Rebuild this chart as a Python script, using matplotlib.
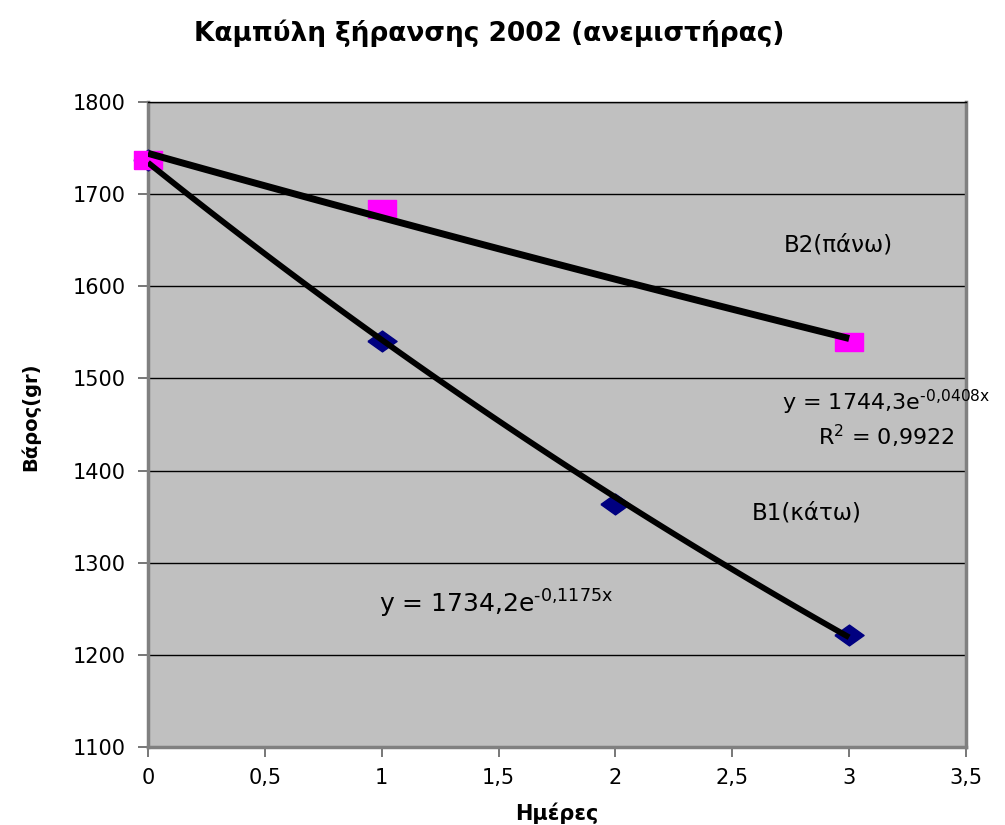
import numpy as np
import matplotlib
matplotlib.use("Agg")
import matplotlib.pyplot as plt
from matplotlib.ticker import MultipleLocator, FuncFormatter

plt.rcParams['font.family'] = ['DejaVu Sans']
plt.rcParams['mathtext.default'] = 'regular'

# Drying measurements (days vs weight in grams)
days_b2 = [0, 1, 3]
weight_b2 = [1737, 1684, 1540]
days_b1 = [0, 1, 2, 3]
weight_b1 = [1737, 1541, 1364, 1222]

# Exponential trendline coefficients: y = a * exp(b * x)
fit_b2 = (1744.3, -0.0408)
fit_b1 = (1734.2, -0.1175)
r2_b2 = 0.9922

title = "Καμπύλη ξήρανσης 2002 (ανεμιστήρας)"
xlabel = "Ημέρες"
ylabel = "Βάρος(gr)"

fig = plt.figure(figsize=(10.05, 8.25), dpi=100)
ax = fig.add_axes([148 / 1005, 1 - 747 / 825, (966 - 148) / 1005, (747 - 102) / 825])
ax.set_facecolor('#C0C0C0')

# wide rectangle / diamond marker shapes
square = [(-1.5, -1), (1.5, -1), (1.5, 1), (-1.5, 1), (-1.5, -1)]
diamond = [(-1.4, 0), (0, -1), (1.4, 0), (0, 1), (-1.4, 0)]

ax.plot(days_b1, weight_b1, linestyle='none', marker=diamond, markersize=21,
        color='#000080', zorder=3, clip_on=False)
ax.plot(days_b2, weight_b2, linestyle='none', marker=square, markersize=20,
        color='#FF00FF', zorder=3.5, clip_on=False)

xs = np.linspace(0, 3, 100)
ax.plot(xs, fit_b2[0] * np.exp(fit_b2[1] * xs), color='black', lw=5, zorder=4,
        solid_capstyle='butt')
ax.plot(xs, fit_b1[0] * np.exp(fit_b1[1] * xs), color='black', lw=4.2, zorder=4,
        solid_capstyle='butt')

ax.set_xlim(0, 3.5)
ax.set_ylim(1100, 1800)
ax.xaxis.set_major_locator(MultipleLocator(0.5))
ax.yaxis.set_major_locator(MultipleLocator(100))
comma = FuncFormatter(lambda v, p: f"{v:g}".replace('.', ','))
ax.xaxis.set_major_formatter(comma)
ax.yaxis.grid(True, color='black', lw=1)
ax.set_axisbelow(True)

for s in ['left', 'bottom', 'right']:
    ax.spines[s].set_color('#808080')
    ax.spines[s].set_linewidth(2.5)
ax.spines['top'].set_color('black')
ax.spines['top'].set_linewidth(1)

ax.tick_params(axis='both', direction='out', length=7, width=1.2, color='#606060',
               labelsize=15, labelcolor='black')
ax.tick_params(axis='x', pad=8)
ax.tick_params(axis='y', pad=9)

fig.text(489 / 1005, 1 - 33 / 825, title, ha='center', va='center',
         fontsize=19, fontweight='bold')
fig.text(557 / 1005, 1 - 813 / 825, xlabel, ha='center', va='center',
         fontsize=15, fontweight='bold')
fig.text(30 / 1005, 1 - 417 / 825, ylabel, ha='center', va='center',
         rotation=90, fontsize=14, fontweight='bold')

HYPHEN = '\u2010'

def num(v, d):
    return f"{v:.{d}f}".replace('.', ',')

def sup(v, d):
    return num(v, d).replace('-', HYPHEN).replace(',', '{,}')

eq_b2 = "y = " + num(fit_b2[0], 1) + "e$^{" + sup(fit_b2[1], 4) + "x}$"
eq_b1 = "y = " + num(fit_b1[0], 1) + "e$^{" + sup(fit_b1[1], 4) + "x}$"
r2_text = "R$^{2}$ = " + num(r2_b2, 4)

fig.text(886 / 1005, 1 - 402 / 825, eq_b2, ha='center', va='center', fontsize=16)
fig.text(886 / 1005, 1 - 436 / 825, r2_text, ha='center', va='center', fontsize=16)
fig.text(838 / 1005, 1 - 245 / 825, "B2(πάνω)", ha='center', va='center', fontsize=16.5)
fig.text(807 / 1005, 1 - 513 / 825, "B1(κάτω)", ha='center', va='center', fontsize=16.5)
fig.text(496 / 1005, 1 - 604 / 825, eq_b1, ha='center', va='center', fontsize=18)

fig.savefig('out.png', dpi=100, facecolor='white')
